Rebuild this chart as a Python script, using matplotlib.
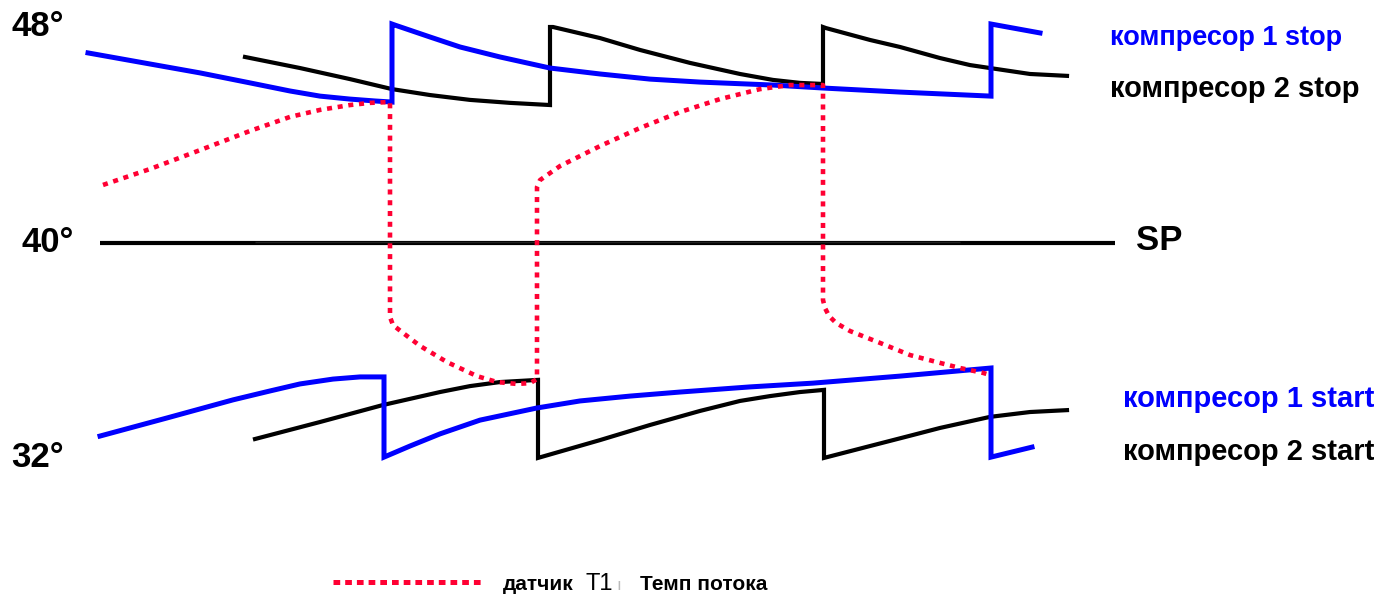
import matplotlib
matplotlib.use("Agg")
import matplotlib.pyplot as plt

plt.rcParams['font.family'] = ['Liberation Sans', 'DejaVu Sans']

BLUE = '#0000FF'
BLACK = '#000000'
RED = '#FF0033'

# time axis (arbitrary units) and temperatures (°C)
c1_stop_t = [88, 150, 200, 250, 290, 320, 350, 375, 392, 392, 395, 430, 460, 500, 550, 600, 650, 700, 773,
             823, 900, 991, 991, 1040]
c1_stop_T = [47.04, 46.63, 46.30, 45.93, 45.63, 45.44, 45.33, 45.26, 45.22, 48.11, 48.07, 47.63, 47.26, 46.89,
             46.48, 46.26, 46.07, 45.96, 45.85, 45.74, 45.59, 45.44, 48.11, 47.78]

c2_stop_t = [245, 300, 350, 392, 430, 470, 510, 550, 550, 553, 600, 640, 690, 740, 773, 800, 823, 823, 826,
             870, 900, 940, 970, 990, 1030, 1067]
c2_stop_T = [46.89, 46.48, 46.07, 45.70, 45.48, 45.30, 45.19, 45.11, 48.00, 48.00, 47.59, 47.15, 46.67, 46.26,
             46.04, 45.93, 45.89, 48.00, 47.96, 47.52, 47.26, 46.85, 46.59, 46.48, 46.26, 46.19]

c1_start_t = [100, 167, 233, 270, 300, 333, 360, 384, 384, 410, 440, 480, 537, 580, 630, 680, 750, 813, 900,
              991, 991, 1032]
c1_start_T = [32.85, 33.52, 34.19, 34.52, 34.78, 34.96, 35.04, 35.04, 32.07, 32.48, 32.93, 33.44, 33.89, 34.15,
              34.33, 34.48, 34.67, 34.81, 35.07, 35.37, 32.07, 32.44]

c2_start_t = [255, 320, 383, 440, 470, 500, 538, 538, 600, 650, 700, 740, 770, 800, 824, 824, 870, 913, 940,
              990, 1030, 1067]
c2_start_T = [32.74, 33.37, 34.00, 34.48, 34.70, 34.85, 34.93, 32.04, 32.70, 33.26, 33.78, 34.15, 34.33, 34.48,
              34.56, 32.04, 32.48, 32.89, 33.15, 33.56, 33.74, 33.81]

sensor_t = [103, 150, 200, 250, 290, 320, 350, 370, 390, 390, 393, 403, 420, 447, 477, 497, 517, 530, 537,
            537, 540, 560, 600, 640, 680, 720, 760, 790, 823, 823, 825, 829, 836, 850, 880, 910, 940, 960, 983, 990]
sensor_T = [42.15, 42.74, 43.44, 44.15, 44.67, 44.93, 45.11, 45.19, 45.22, 37.26, 36.96, 36.67, 36.19, 35.59,
            35.07, 34.85, 34.78, 34.81, 34.96, 42.07, 42.33, 42.85, 43.59, 44.26, 44.85, 45.33, 45.70, 45.85,
            45.85, 37.89, 37.59, 37.30, 37.04, 36.74, 36.30, 35.85, 35.56, 35.37, 35.19, 35.11]

sp_t = [100, 1115]
sp_T = [40.0, 40.0]
sp_overlay_t = [255, 960]
sp_overlay_T = [40.05, 40.05]

legend_t = [333, 485]
legend_T = [27.44, 27.44]

fig = plt.figure(figsize=(13.85, 5.94), dpi=100)
ax = fig.add_axes([0, 0, 1, 1])
ax.set_xlim(0, 1385)
ax.set_ylim(27, 49)
ax.axis('off')

ax.plot(sp_t, sp_T, color=BLACK, lw=3.0, solid_capstyle='butt')
ax.plot(sp_overlay_t, sp_overlay_T, color='#222222', lw=1.0, solid_capstyle='butt')

ax.plot(sensor_t, sensor_T, color=RED, lw=3.3, linestyle=(0, (1.1, 1.25)), dash_capstyle='butt', zorder=3)
ax.plot(c2_stop_t, c2_stop_T, color=BLACK, lw=3.0, solid_joinstyle='miter', zorder=2)
ax.plot(c1_stop_t, c1_stop_T, color=BLUE, lw=3.6, solid_joinstyle='miter', zorder=2.5)
ax.plot(c2_start_t, c2_start_T, color=BLACK, lw=3.0, solid_joinstyle='miter', zorder=2)
ax.plot(c1_start_t, c1_start_T, color=BLUE, lw=3.6, solid_joinstyle='miter', zorder=2.5)

# temperature labels
ax.text(11, 47.67, '48°', fontsize=25, fontweight='bold', va='baseline', ha='left')
ax.text(21, 39.67, '40°', fontsize=25, fontweight='bold', va='baseline', ha='left')
ax.text(11, 31.70, '32°', fontsize=25, fontweight='bold', va='baseline', ha='left')
ax.text(1136, 39.74, 'SP', fontsize=25, fontweight='bold', va='baseline', ha='left')

# series labels
ax.text(1110, 47.33, 'компресор 1 stop', fontsize=19.5, fontweight='bold', color=BLUE, va='baseline')
ax.text(1110, 45.41, 'компресор 2 stop', fontsize=21, fontweight='bold', color=BLACK, va='baseline')
ax.text(1123, 33.93, 'компресор 1 start', fontsize=21, fontweight='bold', color=BLUE, va='baseline')
ax.text(1123, 31.96, 'компресор 2 start', fontsize=21, fontweight='bold', color=BLACK, va='baseline')

# legend
ax.plot(legend_t, legend_T, color=RED, lw=3.6, linestyle=(0, (1.34, 1.0)), dash_capstyle='butt')
ax.text(503, 27.15, 'датчик', fontsize=15, fontweight='bold', va='baseline')
ax.text(585, 27.15, 'T1', fontsize=17, va='baseline')
ax.text(616, 27.15, 'ı', fontsize=12, color='#BBBBBB', va='baseline')
ax.text(640, 27.15, 'Темп потока', fontsize=15, fontweight='bold', va='baseline')

fig.savefig('out.png', dpi=100)
